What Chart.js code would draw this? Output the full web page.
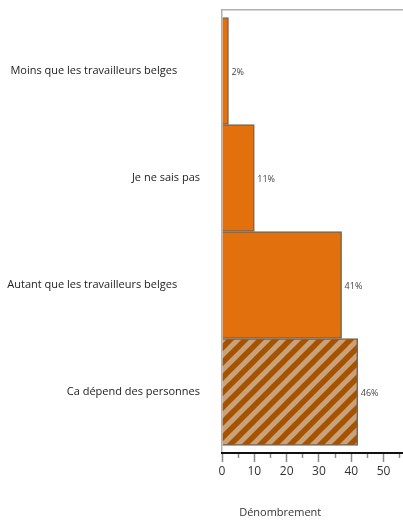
<!DOCTYPE html>
<html>
<head>
<meta charset="utf-8">
<script src="https://cdn.jsdelivr.net/npm/chart.js@4.4.1/dist/chart.umd.min.js"></script>
<style>
  html, body { margin: 0; padding: 0; background: #fff; }
</style>
</head>
<body>
<canvas id="myChart" width="403" height="520"></canvas>
<script>
let categories = [
  "Moins que les travailleurs belges",
  "Je ne sais pas",
  "Autant que les travailleurs belges",
  "Ca dépend des personnes",
];
let counts = [2, 10, 37, 42];
let xTicks = [0, 10, 20, 30, 40, 50];
let minorStep = 5;

let orange = "#e2700c";
let total = counts.reduce((a, b) => a + b, 0);
let font = "'Open Sans', 'Noto Sans', sans-serif";

// striped fill for the last bar
function hatch() {
  const c = document.createElement("canvas");
  c.width = 15;
  c.height = 15;
  const g = c.getContext("2d");
  g.fillStyle = "#c9a27c";
  g.fillRect(0, 0, 15, 15);
  g.strokeStyle = "#a65300";
  g.lineWidth = 5.5;
  g.beginPath();
  g.moveTo(-5, 5); g.lineTo(5, -5);
  g.moveTo(0, 15); g.lineTo(15, 0);
  g.moveTo(10, 20); g.lineTo(20, 10);
  g.stroke();
  return g.createPattern(c, "repeat");
}

const pctLabels = {
  id: "pctLabels",
  afterDatasetsDraw(chart) {
    const ctx = chart.ctx;
    const meta = chart.getDatasetMeta(0);
    ctx.save();
    ctx.font = "9px " + font;
    ctx.fillStyle = "#444";
    ctx.textBaseline = "middle";
    meta.data.forEach((bar, i) => {
      ctx.fillText(Math.round(counts[i] / total * 100) + "%", bar.x + 3, bar.y + 1.5);
    });
    ctx.restore();
  },
};

const config = {
  type: "bar",
  data: {
    datasets: [
      {
        data: counts.map((v, i) => ({ x: v, y: i })),
        backgroundColor: [orange, orange, orange, hatch()],
        borderColor: "#7a6450",
        borderWidth: 1.5,
        categoryPercentage: 1,
        barPercentage: 1,
      },
    ],
  },
  options: {
    indexAxis: "y",
    responsive: false,
    animation: false,
    layout: { padding: { top: 10, left: 0, right: 0, bottom: 0 } },
    plugins: {
      legend: { display: false },
      tooltip: { enabled: false },
    },
    scales: {
      y: {
        type: "linear",
        reverse: true,
        offset: false,
        min: -0.57,
        max: 3.57,
        afterBuildTicks: (s) => {
          s.ticks = categories.map((c, i) => ({ value: i }));
        },
        afterFit: (s) => {
          s.width = 222;
          s.paddingTop = 0;
          s.paddingBottom = 0;
        },
        ticks: {
          autoSkip: false,
          padding: 22,
          color: "#222",
          font: { family: font, size: 11 },
          // long labels sit further left in the original
          callback: (v) => categories[v] + (categories[v].length > 25 ? "        " : ""),
        },
        grid: { display: false, drawTicks: false },
        border: { color: "#b0b0b0", width: 1.5 },
      },
      x: {
        type: "linear",
        position: "bottom",
        min: 0,
        max: 56,
        afterBuildTicks: (s) => {
          const t = [];
          for (let v = 0; v <= 55; v += minorStep) t.push({ value: v });
          s.ticks = t;
        },
        afterFit: (s) => {
          s.height = 67;
          s.paddingLeft = 0;
          s.paddingRight = 0;
        },
        ticks: {
          autoSkip: false,
          maxRotation: 0,
          padding: 2,
          color: "#333",
          font: { family: font, size: 12 },
          callback: (v) => (xTicks.includes(v) ? v : ""),
        },
        grid: {
          display: true,
          drawOnChartArea: false,
          drawTicks: true,
          tickLength: 9,
          tickColor: "#8a8a8a",
          tickWidth: 1.5,
          tickBorderDash: (ctx) => (ctx.tick && ctx.tick.value % 10 ? [4, 20] : []),
        },
        border: { color: "#111", width: 2 },
        title: {
          display: true,
          text: "      Dénombrement",
          align: "start",
          color: "#333",
          font: { family: font, size: 11 },
          padding: { top: 20, bottom: 1 },
        },
      },
      x2: {
        type: "linear",
        position: "top",
        min: 0,
        max: 56,
        ticks: { display: false },
        grid: { display: false, drawTicks: false },
        border: { color: "#b0b0b0", width: 1.5 },
      },
    },
  },
  plugins: [pctLabels],
};

var myChart = new Chart(document.getElementById("myChart"), config);
</script>
</body>
</html>
